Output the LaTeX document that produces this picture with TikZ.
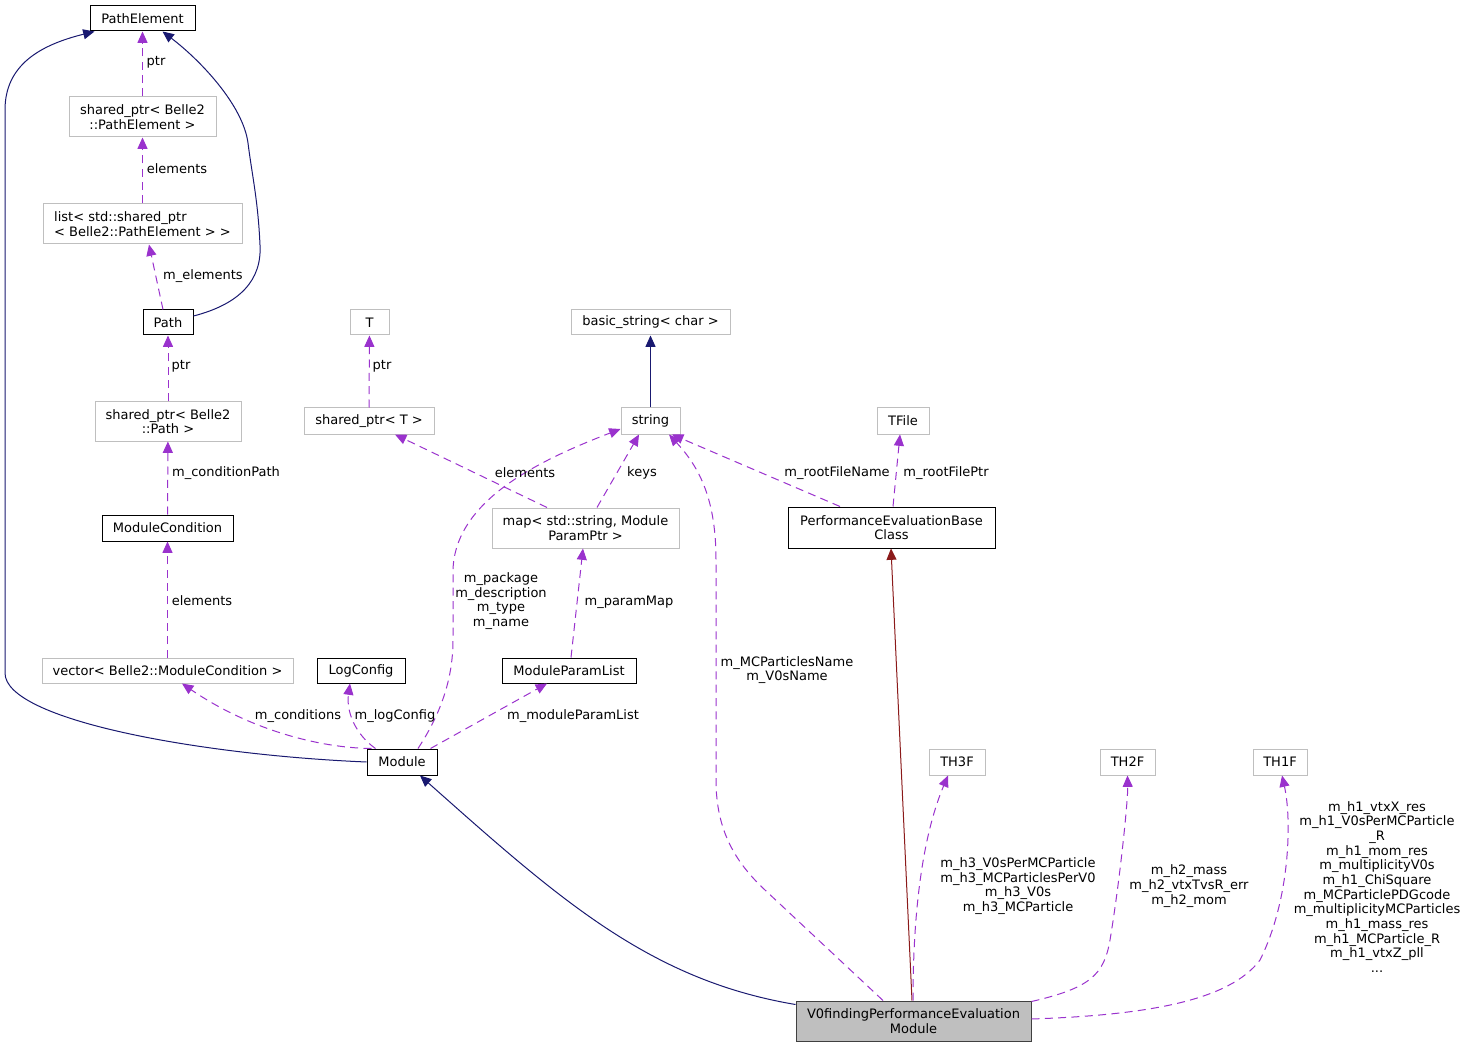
\documentclass[tikz,border=0pt]{standalone}
\usepackage{fontspec}
\setmainfont{DejaVu Sans}
\usetikzlibrary{arrows.meta,calc}
\definecolor{navyc}{HTML}{191970}
\definecolor{purpc}{HTML}{9A32CD}
\definecolor{redc}{HTML}{8B1A1A}
\definecolor{grayb}{HTML}{BFBFBF}
\definecolor{darkb}{HTML}{404040}
\begin{document}
\begin{tikzpicture}[x=0.75pt,y=-0.75pt,
  every node/.style={font=\fontsize{9.75}{11}\selectfont, text=black},
  box/.style={draw, line width=0.75pt, inner sep=0pt, align=center},
  cls/.style={box, draw=black},
  ext/.style={box, draw=grayb},
  mainc/.style={box, draw=darkb, fill=grayb},
  sz/.style 2 args={minimum width=#1*0.75pt, minimum height=#2*0.75pt},
  lbl/.style={inner sep=0pt, align=center},
  tip/.style={-{Triangle[length=8.5pt,width=7.5pt]}},
  inhedge/.style={tip, draw=navyc, line width=0.75pt},
  protedge/.style={tip, draw=redc, line width=0.75pt},
  usedge/.style={tip, draw=purpc, line width=0.75pt, dash pattern=on 6pt off 4pt},
]
\useasboundingbox (0,0) rectangle (1467,1048);

% nodes
\node[cls, sz={105}{25}] (pe) at (142.5,18.5) {PathElement};
\node[ext, sz={147}{40}] (spe) at (142.5,117) {shared\_ptr< Belle2\\::PathElement >};
\node[ext, sz={199}{40}, align=left] (lst) at (142.5,224) {list< std::shared\_ptr\\< Belle2::PathElement > >};
\node[cls, sz={50}{25}] (path) at (168,322.5) {Path};
\node[ext, sz={146}{39}] (sp) at (168,421.5) {shared\_ptr< Belle2\\::Path >};
\node[cls, sz={131}{26}] (mc) at (167.5,528) {ModuleCondition};
\node[ext, sz={251}{25}] (vec) at (167.5,670.5) {vector< Belle2::ModuleCondition >};
\node[cls, sz={88}{25}] (log) at (361,670.5) {LogConfig};
\node[cls, sz={70}{26}] (mod) at (402,762) {Module};
\node[ext, sz={39}{25}] (tt) at (369.5,322.5) {T};
\node[ext, sz={159}{25}] (bs) at (650.5,322.5) {basic\_string< char >};
\node[ext, sz={130}{26}] (spt) at (369,421) {shared\_ptr< T >};
\node[ext, sz={59}{26}] (str) at (650.5,421) {string};
\node[ext, sz={187}{40}] (map) at (585.5,528) {map< std::string, Module\\ParamPtr >};
\node[cls, sz={134}{25}] (mpl) at (569,670.5) {ModuleParamList};
\node[ext, sz={52}{26}] (tfile) at (903,421) {TFile};
\node[cls, sz={207}{41}] (perf) at (891.5,527.5) {PerformanceEvaluationBase\\Class};
\node[mainc, sz={235}{40}] (v0) at (913.5,1021) {V0findingPerformanceEvaluation\\Module};
\node[ext, sz={56}{26}] (th3) at (957,762) {TH3F};
\node[ext, sz={55}{26}] (th2) at (1127.5,762) {TH2F};
\node[ext, sz={54}{26}] (th1) at (1280,762) {TH1F};

% edges
\draw[usedge] (spe) -- (pe);
\draw[usedge] (lst) -- (spe);
\draw[usedge] ($(path.north)+(-5,0)$) -- ($(lst.south)+(6.5,0)$);
\draw[inhedge] ($(path.east)+(0,-6.5)$) .. controls (240,304) and (262,280) .. (260,245)
   .. controls (258,200) and (252,175) .. (248,143)
   .. controls (243,105) and (200,60) .. ($(pe.south)+(20,0)$);
\draw[inhedge] (mod.west) .. controls (200,755) and (5,720) .. (5,673) -- (5,110)
   .. controls (5,65) and (40,45) .. ($(pe.south west)+(5,0)$);
\draw[usedge] (sp) -- (path);
\draw[usedge] (mc) -- (sp);
\draw[usedge] (vec) -- (mc);
\draw[usedge] ($(mod.north west)+(5,0)$) .. controls (320,748) and (250,730) .. ($(vec.south)+(14.5,0)$);
\draw[usedge] ($(mod.north west)+(9,0)$) .. controls (356,735) and (346,712) .. ($(log.south)+(-11,0)$);
\draw[usedge] ($(mod.north)+(16,0)$) .. controls (440,715) and (453,680) .. (453,640) -- (453,570)
   .. controls (455,500) and (540,460) .. ($(str.west)+(0,8)$);
\draw[usedge] ($(mod.north east)+(-7,0)$) -- ($(mpl.south)+(-22,0)$);
\draw[usedge] ($(mpl.north)+(2,0)$) -- ($(map.south)+(-2.5,0)$);
\draw[usedge] ($(map.north)+(-38.5,0)$) -- ($(spt.south)+(26,0)$);
\draw[usedge] ($(map.north)+(11.5,0)$) -- ($(str.south)+(-11.5,0)$);
\draw[usedge] (spt) -- (tt);
\draw[inhedge] (str) -- (bs);
\draw[usedge] ($(perf.north)+(-51.5,0)$) -- ($(str.south)+(21.5,0)$);
\draw[usedge] ($(perf.north)+(1.5,0)$) -- ($(tfile.south)+(-3,0)$);
\draw[protedge] ($(v0.north)+(-1.5,0)$) -- ($(perf.south)+(-0.5,0)$);
\draw[inhedge] ($(v0.north west)+(0,4)$) .. controls (650,980) and (560,900) .. ($(mod.south)+(18,0)$);
\draw[usedge] ($(v0.north)+(-30.5,0)$) -- (765,890) .. controls (735,862) and (716,830) .. (716,780)
   -- (716,560) .. controls (716,500) and (700,468) .. ($(str.south)+(18.5,0)$);
\draw[usedge] ($(v0.north)+(-0.5,0)$) .. controls (913,900) and (925,830) .. ($(th3.south)+(-9,0)$);
\draw[usedge] ($(v0.north east)+(0,1)$) .. controls (1090,988) and (1104,975) .. (1110,940)
   .. controls (1120,880) and (1128,800) .. (th2.south);
\draw[usedge] ($(v0.east)+(0,-2)$) .. controls (1150,1015) and (1230,1000) .. (1260,960)
   .. controls (1290,900) and (1292,820) .. ($(th1.south)+(2,0)$);

% labels
\node[lbl] (l1) at (156,62) {ptr};
\node[lbl] (l2) at (177,169) {elements};
\node[lbl] (l3) at (203,276) {m\_elements};
\node[lbl] (l4) at (181,366) {ptr};
\node[lbl] (l5) at (226,473) {m\_conditionPath};
\node[lbl] (l6) at (202,601) {elements};
\node[lbl] (l7) at (298,716) {m\_conditions};
\node[lbl] (l8) at (395,716) {m\_logConfig};
\node[lbl] (l9) at (501,601) {m\_package\\m\_description\\m\_type\\m\_name};
\node[lbl] (l10) at (573,716) {m\_moduleParamList};
\node[lbl] (l11) at (629,602) {m\_paramMap};
\node[lbl] (l12) at (787,670) {m\_MCParticlesName\\m\_V0sName};
\node[lbl] (l13) at (525,473) {elements};
\node[lbl] (l14) at (642,473) {keys};
\node[lbl] (l15) at (382,366) {ptr};
\node[lbl] (l16) at (837,473) {m\_rootFileName};
\node[lbl] (l17) at (946,473) {m\_rootFilePtr};
\node[lbl] (l18) at (1018,886) {m\_h3\_V0sPerMCParticle\\m\_h3\_MCParticlesPerV0\\m\_h3\_V0s\\m\_h3\_MCParticle};
\node[lbl] (l19) at (1189,886) {m\_h2\_mass\\m\_h2\_vtxTvsR\_err\\m\_h2\_mom};
\node[lbl] (l20) at (1377,887) {m\_h1\_vtxX\_res\\m\_h1\_V0sPerMCParticle\\\_R\\m\_h1\_mom\_res\\m\_multiplicityV0s\\m\_h1\_ChiSquare\\m\_MCParticlePDGcode\\m\_multiplicityMCParticles\\m\_h1\_mass\_res\\m\_h1\_MCParticle\_R\\m\_h1\_vtxZ\_pll\\...};
\end{tikzpicture}
\end{document}
